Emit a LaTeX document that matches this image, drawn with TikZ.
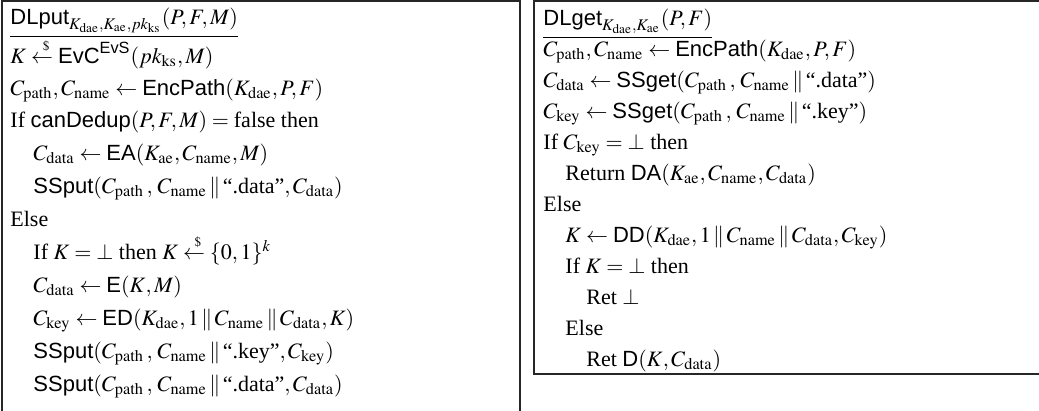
\documentclass[tikz,border=0pt]{standalone}
\usepackage{amsmath}
\usepackage{mathptmx}
\usepackage[no-math]{fontspec}
\setmainfont{Liberation Serif}
\setsansfont{Liberation Sans}
\newcommand\algname[1]{\textsf{#1}}
\newcommand\rmsub[1]{_{\mathrm{#1}}}
\newcommand\cat{\,\|\,}
\newcommand\sampleto{\mathrel{\stackrel{\hspace{0.35em}\scriptscriptstyle\$}{\leftarrow}}}
\newcommand\sep{\,,\,}
\tikzset{
  codeline/.style={anchor=base west, inner sep=0pt, font=\fontsize{10}{12}\selectfont},
  frame/.style={draw=black!85, line width=0.5pt}
}
\begin{document}
\begin{tikzpicture}[x=0.454545pt, y=-0.454545pt]
\useasboundingbox (0,0) rectangle (1039,410);
\clip (0,0) rectangle (1039,410);
\fill[white] (0,0) rectangle (1039,410);
% frames
\draw[frame] (2,430) -- (2,1) -- (520,1) -- (520,430);
\draw[frame] (1050,374) -- (534,374) -- (534,1) -- (1050,1);
% left box
\node[codeline] (l1) at (10,24) {\underline{$\algname{DLput}_{K\rmsub{dae},K\rmsub{ae},pk\rmsub{ks}}(P,F,M)$}};
\node[codeline] (l2) at (10,63) {$K \sampleto \algname{EvC}^{\algname{EvS}}(pk\rmsub{ks},M)$};
\node[codeline] (l3) at (10,95) {$C\rmsub{path},C\rmsub{name} \leftarrow \algname{EncPath}(K\rmsub{dae},P,F)$};
\node[codeline] (l4) at (10,127) {If $\algname{canDedup}(P,F,M)=\text{false}$ then};
\node[codeline] (l5) at (33,160) {$C\rmsub{data} \leftarrow \algname{EA}(K\rmsub{ae},C\rmsub{name},M)$};
\node[codeline] (l6) at (33,193) {$\algname{SSput}(C\rmsub{path}\sep C\rmsub{name}\cat\text{``.data''},C\rmsub{data})$};
\node[codeline] (l7) at (10,226) {Else};
\node[codeline] (l8) at (33,259) {If $K=\bot$ then $K \sampleto \{0,1\}^k$};
\node[codeline] (l9) at (33,292) {$C\rmsub{data} \leftarrow \algname{E}(K,M)$};
\node[codeline] (l10) at (33,325) {$C\rmsub{key} \leftarrow \algname{ED}(K\rmsub{dae},1\cat C\rmsub{name}\cat C\rmsub{data},K)$};
\node[codeline] (l11) at (33,358) {$\algname{SSput}(C\rmsub{path}\sep C\rmsub{name}\cat\text{``.key''},C\rmsub{key})$};
\node[codeline] (l12) at (33,391) {$\algname{SSput}(C\rmsub{path}\sep C\rmsub{name}\cat\text{``.data''},C\rmsub{data})$};
% right box
\node[codeline] (r1) at (543,25) {\underline{$\algname{DLget}_{K\rmsub{dae},K\rmsub{ae}}(P,F)$}};
\node[codeline] (r2) at (543,56) {$C\rmsub{path},C\rmsub{name} \leftarrow \algname{EncPath}(K\rmsub{dae},P,F)$};
\node[codeline] (r3) at (543,87) {$C\rmsub{data} \leftarrow \algname{SSget}(C\rmsub{path}\sep C\rmsub{name}\cat\text{``.data''})$};
\node[codeline] (r4) at (543,118) {$C\rmsub{key} \leftarrow \algname{SSget}(C\rmsub{path}\sep C\rmsub{name}\cat\text{``.key''})$};
\node[codeline] (r5) at (543,149) {If $C\rmsub{key}=\bot$ then};
\node[codeline] (r6) at (565,180) {Return $\algname{DA}(K\rmsub{ae},C\rmsub{name},C\rmsub{data})$};
\node[codeline] (r7) at (543,211) {Else};
\node[codeline] (r8) at (565,242) {$K \leftarrow \algname{DD}(K\rmsub{dae},1\cat C\rmsub{name}\cat C\rmsub{data},C\rmsub{key})$};
\node[codeline] (r9) at (565,273) {If $K=\bot$ then};
\node[codeline] (r10) at (586,304) {Ret $\bot$};
\node[codeline] (r11) at (565,335) {Else};
\node[codeline] (r12) at (586,366) {Ret $\algname{D}(K,C\rmsub{data})$};
\end{tikzpicture}
\end{document}
